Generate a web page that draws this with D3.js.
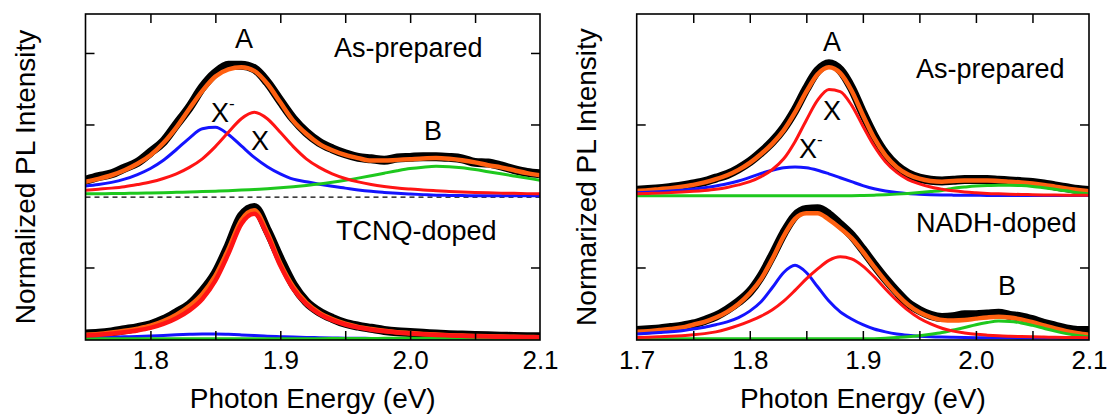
<!DOCTYPE html>
<html><head><meta charset="utf-8">
<script src="https://cdn.jsdelivr.net/npm/d3@7"></script>
<style>
html,body{margin:0;padding:0;background:#fff;}
svg text{font-family:"Liberation Sans",Arial,sans-serif;fill:#000;}
</style></head>
<body>
<svg id="chart" width="1112" height="414"></svg>
<script>
// ---------- DATA ----------
const energyL = [1.75,1.76,1.77,1.78,1.79,1.80,1.81,1.82,1.83,1.84,1.85,1.86,1.87,1.88,1.89,1.90,1.91,1.92,1.93,1.94,1.95,1.96,1.97,1.98,1.99,2.00,2.01,2.02,2.03,2.04,2.05,2.06,2.07,2.08,2.09,2.10];
const energyR = [1.70,1.71,1.72,1.73,1.74,1.75,1.76,1.77,1.78,1.79,1.80,1.81,1.82,1.83,1.84,1.85,1.86,1.87,1.88,1.89,1.90,1.91,1.92,1.93,1.94,1.95,1.96,1.97,1.98,1.99,2.00,2.01,2.02,2.03,2.04,2.05,2.06,2.07,2.08,2.09,2.10];

// Left panel, as-prepared (offset upward by one block)
const asPrepL_data = [.22,.27,.31,.39,.47,.61,.76,1.00,1.24,1.52,1.72,1.83,1.83,1.78,1.59,1.33,1.08,.89,.75,.66,.59,.54,.52,.50,.53,.54,.55,.55,.54,.52,.47,.46,.42,.37,.33,.31];
const asPrepL_fit  = [.20,.24,.29,.36,.45,.57,.74,.96,1.22,1.47,1.67,1.77,1.80,1.75,1.57,1.31,1.05,.87,.73,.64,.575,.53,.495,.495,.505,.515,.525,.53,.52,.50,.47,.43,.40,.36,.32,.29];
const asPrepL_X    = [.08,.095,.11,.13,.16,.195,.245,.31,.40,.52,.69,.89,1.08,1.17,1.08,.89,.69,.52,.40,.31,.245,.197,.161,.134,.113,.097,.083,.073,.064,.056,.05,.045,.04,.037,.033,.03];
const asPrepL_Xm   = [.14,.16,.19,.235,.30,.385,.50,.65,.81,.94,.96,.86,.70,.54,.41,.31,.235,.20,.165,.135,.11,.085,.065,.05,.037,.027,.019,.012,.008,.006,.004,.003,.003,.002,.002,.002];
const asPrepL_B    = [.03,.032,.034,.036,.039,.043,.046,.051,.055,.061,.067,.074,.082,.092,.102,.115,.13,.148,.168,.192,.219,.25,.284,.319,.353,.383,.403,.415,.41,.395,.37,.34,.31,.28,.25,.22];

// Left panel, TCNQ-doped
const tcnq_data = [.07,.08,.10,.13,.16,.20,.27,.37,.48,.67,.92,1.30,1.72,1.84,1.52,1.12,.76,.52,.38,.29,.22,.18,.15,.12,.10,.09,.08,.07,.06,.055,.05,.045,.04,.035,.033,.03];
const tcnq_fit  = [.06,.07,.09,.115,.145,.185,.25,.34,.46,.63,.885,1.255,1.664,1.80,1.49,1.06,.73,.51,.37,.28,.215,.17,.14,.115,.096,.083,.071,.062,.054,.048,.043,.038,.034,.031,.028,.025];
const tcnq_X    = [.05,.06,.075,.095,.12,.155,.21,.29,.40,.56,.815,1.19,1.607,1.75,1.45,1.026,.70,.488,.352,.263,.203,.161,.13,.107,.09,.077,.066,.057,.05,.044,.039,.035,.031,.028,.026,.023];
const tcnq_Xm   = [.02,.022,.025,.03,.035,.042,.05,.058,.065,.07,.07,.065,.057,.048,.04,.033,.027,.022,.018,.015,.012,.01,.008,.007,.006,.006,.005,.005,.005,.004,.004,.004,.003,.003,.003,.002];
const tcnq_B    = [.004,.004,.004,.004,.004,.004,.004,.004,.004,.004,.004,.004,.004,.004,.004,.004,.005,.005,.005,.006,.006,.007,.008,.009,.01,.011,.012,.012,.012,.011,.01,.009,.008,.007,.006,.005];

// Right panel, as-prepared (offset upward by one block)
const asPrepR_data = [.08,.09,.10,.12,.14,.17,.20,.25,.30,.38,.48,.61,.76,.95,1.20,1.50,1.75,1.85,1.76,1.51,1.16,.84,.59,.42,.31,.25,.22,.21,.22,.23,.23,.23,.22,.21,.20,.19,.17,.14,.115,.09,.075];
const asPrepR_fit  = [.07,.08,.095,.11,.13,.155,.19,.235,.29,.365,.463,.588,.733,.918,1.168,1.458,1.703,1.80,1.718,1.475,1.133,.812,.568,.404,.299,.242,.21,.20,.21,.215,.215,.215,.21,.20,.19,.175,.155,.13,.105,.085,.065];
const asPrepR_X    = [.03,.035,.04,.047,.055,.065,.078,.095,.12,.155,.20,.27,.37,.52,.76,1.06,1.34,1.49,1.46,1.27,.98,.70,.48,.33,.23,.17,.125,.095,.072,.056,.045,.036,.03,.025,.021,.018,.015,.013,.011,.01,.009];
const asPrepR_Xm   = [.046,.052,.06,.07,.082,.097,.115,.14,.17,.21,.26,.315,.36,.395,.405,.395,.36,.31,.255,.20,.145,.10,.07,.048,.033,.024,.018,.014,.012,.01,.009,.008,.008,.008,.007,.007,.007,.007,.006,.006,.006];
const asPrepR_B    = [.003,.003,.003,.003,.003,.003,.003,.003,.003,.003,.003,.003,.003,.003,.003,.003,.003,.003,.003,.005,.008,.012,.018,.026,.036,.048,.062,.078,.11,.125,.138,.146,.15,.15,.145,.133,.115,.094,.072,.045,.028];

// Right panel, NADH-doped
const nadh_data = [.12,.13,.14,.16,.18,.21,.26,.32,.41,.52,.66,.88,1.17,1.48,1.72,1.81,1.82,1.74,1.60,1.45,1.25,1.04,.84,.66,.50,.40,.33,.30,.31,.34,.34,.35,.36,.33,.31,.27,.22,.18,.14,.12,.12];
const nadh_fit  = [.10,.11,.125,.14,.16,.20,.24,.30,.38,.49,.64,.84,1.12,1.44,1.68,1.76,1.76,1.67,1.55,1.41,1.22,1.01,.81,.63,.48,.375,.307,.267,.259,.266,.285,.302,.312,.30,.274,.234,.19,.147,.109,.08,.059];
const nadh_X    = [.02,.024,.03,.037,.046,.058,.075,.10,.14,.19,.25,.32,.41,.53,.68,.84,.98,1.10,1.15,1.12,1.02,.87,.70,.54,.40,.29,.21,.15,.11,.085,.066,.054,.045,.039,.034,.03,.027,.024,.022,.02,.018];
const nadh_Xm   = [.07,.08,.09,.10,.115,.14,.165,.20,.24,.30,.39,.52,.72,.93,1.03,.93,.73,.53,.38,.28,.20,.14,.10,.07,.052,.04,.032,.027,.024,.021,.019,.018,.017,.016,.015,.014,.013,.013,.012,.012,.011];
const nadh_B    = [.002,.002,.002,.002,.002,.002,.002,.002,.002,.002,.002,.002,.002,.002,.002,.002,.002,.002,.002,.002,.003,.005,.01,.02,.03,.045,.065,.09,.125,.16,.20,.23,.25,.245,.225,.19,.15,.11,.075,.048,.03];

const xTickLabelsL = [1.8,1.9,2.0,2.1];
const xTickLabelsR = [1.7,1.8,1.9,2.0,2.1];
const xMinorL = [1.8,1.85,1.9,1.95,2.0,2.05];
const xMinorR = [1.75,1.8,1.85,1.9,1.95,2.0,2.05];
const yTicksL = [1,3,4];
const yTicksR = [1,3];

// ---------- LAYOUT ----------
const svg = d3.select("#chart");
const TOP = 14, BOTTOM = 340;
const BLOCK = 2;          // vertical offset of the upper spectrum
const C = {data:"#000000", fit:"#ff6010", X:"#ff1414", Xm:"#1414ff", B:"#1ec81e"};
const FONT = 27, TICKFONT = 26, TITLEFONT = 28;

const y = d3.scaleLinear().domain([-0.014, 4.545]).range([BOTTOM, TOP]);

function panel(cfg){
  const x = d3.scaleLinear().domain(cfg.domain).range([cfg.x0, cfg.x1]);
  const g = svg.append("g");
  const clipId = "clip"+cfg.id;
  svg.append("clipPath").attr("id", clipId).append("rect")
     .attr("x", cfg.x0).attr("y", TOP).attr("width", cfg.x1-cfg.x0).attr("height", BOTTOM-TOP);
  const plot = g.append("g").attr("clip-path", `url(#${clipId})`);

  if (cfg.dashed) {
    plot.append("line").attr("x1", cfg.x0).attr("x2", cfg.x1)
      .attr("y1", y(BLOCK-0.015)).attr("y2", y(BLOCK-0.015))
      .attr("stroke", "#000").attr("stroke-width", 1.2).attr("stroke-dasharray", "5,4");
  }

  const line = (off) => d3.line().x((d,i)=>x(cfg.energy[i])).y(d=>y(d+off)).curve(d3.curveMonotoneX);

  cfg.spectra.forEach(s => {
    const L = line(s.offset);
    plot.append("path").datum(s.data).attr("d", L).attr("fill","none")
      .attr("stroke", C.data).attr("stroke-width", 9).attr("stroke-linejoin","round").attr("stroke-linecap","round");
    plot.append("path").datum(s.fit).attr("d", L).attr("fill","none")
      .attr("stroke", C.fit).attr("stroke-width", 4.5);
    plot.append("path").datum(s.Xm).attr("d", L).attr("fill","none")
      .attr("stroke", C.Xm).attr("stroke-width", 3);
    plot.append("path").datum(s.B).attr("d", L).attr("fill","none")
      .attr("stroke", C.B).attr("stroke-width", 3);
    plot.append("path").datum(s.X).attr("d", L).attr("fill","none")
      .attr("stroke", C.X).attr("stroke-width", s.redWidth || 3);
  });

  // frame
  g.append("rect").attr("x", cfg.x0).attr("y", TOP).attr("width", cfg.x1-cfg.x0).attr("height", BOTTOM-TOP)
    .attr("fill","none").attr("stroke","#000").attr("stroke-width",1.6);

  // inward ticks
  const tk = 9;
  const axB = g.append("g").attr("transform",`translate(0,${BOTTOM})`)
    .call(d3.axisBottom(x).tickValues(cfg.minor).tickSize(-tk).tickFormat(""));
  const axT = g.append("g").attr("transform",`translate(0,${TOP})`)
    .call(d3.axisTop(x).tickValues(cfg.minor).tickSize(-tk).tickFormat(""));
  const axL = g.append("g").attr("transform",`translate(${cfg.x0},0)`)
    .call(d3.axisLeft(y).tickValues(cfg.yTicks).tickSize(-tk).tickFormat(""));
  const axR = g.append("g").attr("transform",`translate(${cfg.x1},0)`)
    .call(d3.axisRight(y).tickValues(cfg.yTicks).tickSize(-tk).tickFormat(""));
  [axB,axT,axL,axR].forEach(a=>{
    a.select(".domain").remove();
    a.selectAll("line").attr("stroke","#000").attr("stroke-width",1.5);
  });

  // tick labels
  const lab = g.append("g").attr("transform",`translate(0,${BOTTOM})`)
    .call(d3.axisBottom(x).tickValues(cfg.labels).tickSize(0).tickPadding(11).tickFormat(d3.format(".1f")));
  lab.select(".domain").remove();
  lab.selectAll("text").attr("font-size", TICKFONT).attr("font-family",'"Liberation Sans",Arial,sans-serif').attr("fill","#000");

  // axis titles
  g.append("text").attr("x", (cfg.x0+cfg.x1)/2).attr("y", 408).attr("text-anchor","middle")
    .attr("font-size", TITLEFONT).text("Photon Energy (eV)");
  g.append("text").attr("transform", `translate(${cfg.yTitleX},${(TOP+BOTTOM)/2}) rotate(-90)`)
    .attr("text-anchor","middle").attr("font-size", TITLEFONT).text(cfg.yTitle);

  // annotations
  cfg.notes.forEach(n => {
    const t = g.append("text").attr("x", n.x).attr("y", n.y).attr("text-anchor", n.anchor||"middle")
      .attr("font-size", FONT);
    t.append("tspan").text(n.t);
    if (n.sup) {
      t.append("tspan").attr("font-size", 17).attr("dy", -13).text(n.sup);
    }
  });
}

panel({
  id:"L", domain:[1.75,2.1], x0:85.5, x1:540, energy:energyL, dashed:true,
  minor:xMinorL, labels:xTickLabelsL, yTicks:yTicksL,
  yTitle:"Normalized PL Intensity", yTitleX:35,
  spectra:[
    {offset:BLOCK, data:asPrepL_data, fit:asPrepL_fit, X:asPrepL_X, Xm:asPrepL_Xm, B:asPrepL_B},
    {offset:0, data:tcnq_data, fit:tcnq_fit, X:tcnq_X, Xm:tcnq_Xm, B:tcnq_B, redWidth:4.5}
  ],
  notes:[
    {t:"A", x:244, y:48},
    {t:"As-prepared", x:334, y:57, anchor:"start"},
    {t:"X", sup:"-", x:211, y:122, anchor:"start"},
    {t:"X", x:260, y:150},
    {t:"B", x:433, y:140},
    {t:"TCNQ-doped", x:336, y:240, anchor:"start"}
  ]
});

panel({
  id:"R", domain:[1.7,2.1], x0:636.7, x1:1089, energy:energyR, dashed:false,
  minor:xMinorR, labels:xTickLabelsR, yTicks:yTicksR,
  yTitle:"Normarized PL Intensity", yTitleX:596,
  spectra:[
    {offset:BLOCK, data:asPrepR_data, fit:asPrepR_fit, X:asPrepR_X, Xm:asPrepR_Xm, B:asPrepR_B},
    {offset:0, data:nadh_data, fit:nadh_fit, X:nadh_X, Xm:nadh_Xm, B:nadh_B}
  ],
  notes:[
    {t:"A", x:832, y:51},
    {t:"As-prepared", x:916, y:78, anchor:"start"},
    {t:"X", x:832, y:120},
    {t:"X", sup:"-", x:799, y:158, anchor:"start"},
    {t:"NADH-doped", x:916, y:232, anchor:"start"},
    {t:"B", x:1007, y:295}
  ]
});
</script>
</body></html>
